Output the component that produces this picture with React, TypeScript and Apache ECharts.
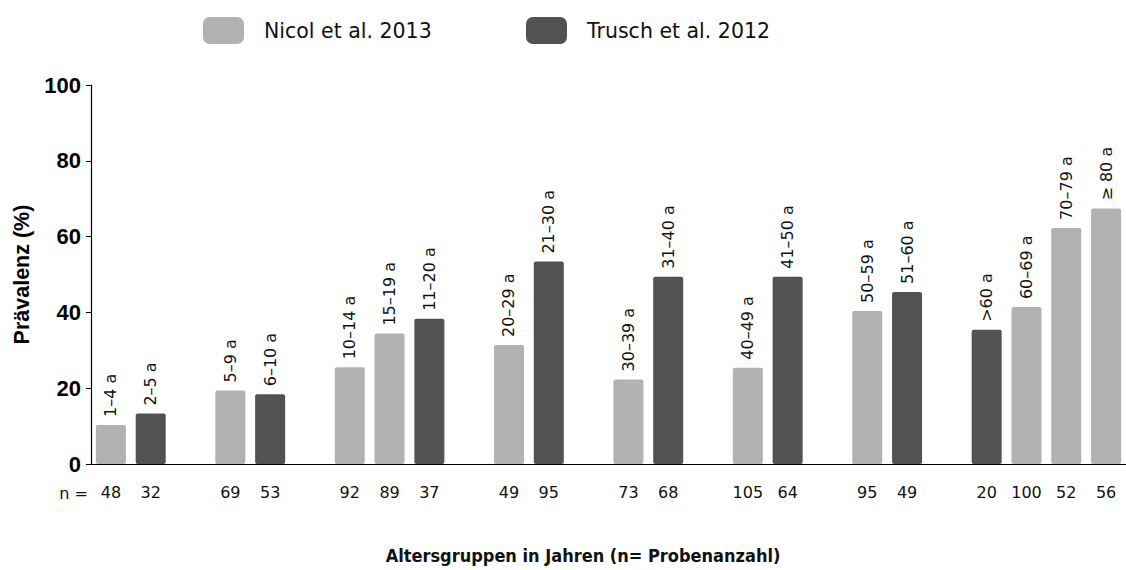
import React, { useEffect, useRef } from "react";
import * as echarts from "echarts";

const ageLabels = ["1–4 a", "2–5 a", "", "5–9 a", "6–10 a", "", "10–14 a", "15–19 a", "11–20 a", "", "20–29 a", "21–30 a", "", "30–39 a", "31–40 a", "", "40–49 a", "41–50 a", "", "50–59 a", "51–60 a", "", ">60 a", "60–69 a", "70–79 a", "≥ 80 a"];
const sampleSizes = ["48", "32", "", "69", "53", "", "92", "89", "37", "", "49", "95", "", "73", "68", "", "105", "64", "", "95", "49", "", "20", "100", "52", "56"];
const nicol = [10.3, null, null, 19.4, null, null, 25.5, 34.4, null, null, 31.4, null, null, 22.3, null, null, 25.4, null, null, 40.4, null, null, null, 41.4, 62.3, 67.4];
const trusch = [null, 13.3, null, null, 18.4, null, null, null, 38.3, null, null, 53.4, null, null, 49.4, null, null, 49.4, null, null, 45.4, null, 35.4, null, null, null];
const yTicks = [0, 20, 40, 60, 80, 100];

const LIGHT = "#b2b2b2";
const DARK = "#525252";
const SANS = "DejaVu Sans";
const COND = "'DejaVu Sans Condensed', 'DejaVu Sans'";
const ARIAL = "Liberation Sans";

export default function App() {
  const ref = useRef<HTMLDivElement>(null);
  useEffect(() => {
    if (!ref.current) return;
    const chart = echarts.init(ref.current, null, { renderer: "svg" });
    const label = {
      show: true,
      position: "top",
      rotate: 90,
      align: "left",
      verticalAlign: "middle",
      distance: 8,
      fontFamily: SANS,
      fontSize: 16,
      color: "#111",
      formatter: (p: any) => ageLabels[p.dataIndex],
    };
    const legendBase = {
      top: 12,
      itemWidth: 41,
      itemHeight: 27,
      icon: "roundRect",
      textStyle: { fontFamily: SANS, fontSize: 20.5, color: "#111", padding: [0, 0, 0, 15] },
    };
    chart.setOption({
      animation: false,
      backgroundColor: "#fff",
      legend: [
        { ...legendBase, data: ["Nicol et al. 2013"], left: 198 },
        { ...legendBase, data: ["Trusch et al. 2012"], left: 521 },
      ],
      grid: { left: 91, right: -3, top: 85, bottom: 106, containLabel: false },
      xAxis: {
        type: "category",
        data: sampleSizes.map((_, i) => "c" + i),
        axisLine: { lineStyle: { color: "#000", width: 1.2 } },
        axisTick: { show: false },
        axisLabel: {
          formatter: (_v: string, i: number) => sampleSizes[i],
          interval: 0,
          margin: 20,
          fontFamily: SANS,
          fontSize: 16,
          color: "#111",
        },
      },
      yAxis: {
        type: "value",
        min: yTicks[0],
        max: yTicks[yTicks.length - 1],
        interval: 20,
        splitLine: { show: false },
        axisLine: { show: true, lineStyle: { color: "#000", width: 1.2 } },
        axisTick: { show: true, length: 5, lineStyle: { color: "#000" } },
        axisLabel: { margin: 10, fontFamily: ARIAL, fontSize: 22, fontWeight: "bold", color: "#000" },
        name: "Prävalenz (%)",
        nameLocation: "middle",
        nameGap: 56,
        nameTextStyle: { fontFamily: ARIAL, fontSize: 21.5, fontWeight: "bold", color: "#000" },
      },
      series: [
        {
          name: "Nicol et al. 2013",
          type: "bar",
          data: nicol.map((v) => (v == null ? "-" : v)),
          barWidth: 30,
          barGap: "-100%",
          itemStyle: { color: LIGHT, borderRadius: 2 },
          label,
        },
        {
          name: "Trusch et al. 2012",
          type: "bar",
          data: trusch.map((v) => (v == null ? "-" : v)),
          barWidth: 30,
          barGap: "-100%",
          itemStyle: { color: DARK, borderRadius: 2 },
          label,
        },
      ],
      graphic: [
        {
          type: "text",
          x: 88,
          y: 493,
          style: { text: "n =", fontFamily: SANS, fontSize: 16, fill: "#111", align: "right", verticalAlign: "middle" },
        },
        {
          type: "text",
          x: 583,
          y: 555,
          style: {
            text: "Altersgruppen in Jahren (n= Probenanzahl)",
            fontFamily: COND,
            fontSize: 18,
            fontWeight: "bold",
            fill: "#111",
            align: "center",
            verticalAlign: "middle",
          },
        },
      ],
    });
    return () => chart.dispose();
  }, []);
  return <div ref={ref} style={{ position: "fixed", left: 0, top: 0, width: 1126, height: 570 }} />;
}
